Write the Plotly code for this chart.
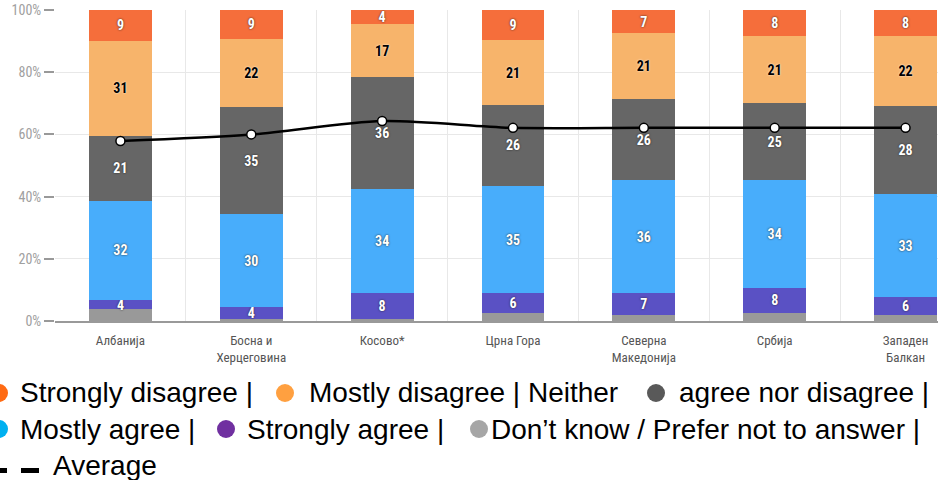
import plotly.graph_objects as go

categories = ["Албанија", "Босна и<br>Херцеговина", "Косово*", "Црна Гора",
              "Северна<br>Македонија", "Србија", "Западен<br>Балкан"]

# segment heights (percent)
strongly_disagree = [9.9, 9.3, 4.5, 9.8, 7.5, 8.5, 8.5]
mostly_disagree = [30.6, 21.9, 17.1, 20.6, 21.1, 21.4, 22.3]
neither = [20.9, 34.5, 35.9, 26.1, 26.2, 24.9, 28.3]
mostly_agree = [31.8, 29.7, 33.6, 34.6, 36.3, 34.5, 33.3]
strongly_agree = [3.1, 4.1, 8.4, 6.2, 7.0, 8.0, 5.7]
dont_know = [3.7, 0.5, 0.5, 2.7, 1.9, 2.7, 1.9]

# printed data labels
sd_labels = ["9", "9", "4", "9", "7", "8", "8"]
md_labels = ["31", "22", "17", "21", "21", "21", "22"]
n_labels = ["21", "35", "36", "26", "26", "25", "28"]
ma_labels = ["32", "30", "34", "35", "36", "34", "33"]
sa_labels = ["4", "4", "8", "6", "7", "8", "6"]

average = [57.9, 60.0, 64.3, 62.1, 62.1, 62.1, 62.1]

y_ticks = [0, 20, 40, 60, 80, 100]
y_ticktext = ["0%", "20%", "40%", "60%", "80%", "100%"]

label_font = "Liberation Sans Narrow, Roboto Condensed, Roboto, sans-serif"

fig = go.Figure()

def add_bar(vals, color, labels, txtcolor, shadow):
    fig.add_trace(go.Bar(
        x=categories, y=vals, marker=dict(color=color, line=dict(width=0)),
        text=labels, texttemplate="%{text}" if labels else None,
        textposition="inside" if labels else "none",
        insidetextanchor="middle", textangle=0,
        textfont=dict(family=label_font, size=14, color=txtcolor,
                      weight="bold", shadow=shadow),
        hoverinfo="skip", showlegend=False,
    ))

add_bar(dont_know, "#999999", None, "white", "none")
add_bar(strongly_agree, "#5A51C4", sa_labels, "white", "0px 0px 2px #222")
add_bar(mostly_agree, "#48ADFB", ma_labels, "white", "0px 0px 2px #222")
add_bar(neither, "#666666", n_labels, "white", "0px 0px 2px #222")
add_bar(mostly_disagree, "#F7B46B", md_labels, "black", "0px 0px 2px #fff")
add_bar(strongly_disagree, "#F56E3B", sd_labels, "white", "0px 0px 2px #222")

fig.add_trace(go.Scatter(
    x=categories, y=average, mode="lines+markers",
    line=dict(color="black", width=2.5, shape="spline", smoothing=0.8),
    marker=dict(size=9, color="white", line=dict(color="black", width=1.5)),
    hoverinfo="skip", showlegend=False,
))

fig.update_layout(
    width=938, height=480,
    margin=dict(l=55, r=0, t=10, b=159),
    barmode="stack", bargap=0.52,
    plot_bgcolor="white", paper_bgcolor="white",
    uniformtext=dict(minsize=14, mode="show"),
    showlegend=False,
)
fig.update_xaxes(
    type="category", range=[-0.5, 6.248], tickson="boundaries",
    showgrid=True, gridcolor="#e8e8e8", gridwidth=1,
    showline=True, linecolor="#999999", linewidth=2,
    ticks="", ticklabelstandoff=6,
    tickfont=dict(family=label_font, size=13, color="#555555"),
    fixedrange=True,
)
fig.update_yaxes(
    range=[0, 100], tickvals=y_ticks, ticktext=y_ticktext,
    showgrid=True, gridcolor="#e8e8e8", gridwidth=1, zeroline=False,
    ticks="outside", ticklen=10, tickwidth=2, tickcolor="#999999",
    tickfont=dict(family=label_font, size=14, color="#a0a0a0"),
    showline=False, fixedrange=True,
)

# ---- custom legend below the chart (text block as in the original) ----
PL, PW, PT, PH = 55, 883, 10, 311
def px(xp):
    return (xp - PL) / PW
def py(yp):
    return (PT + PH - yp) / PH

legend_font = dict(family="Liberation Sans, Arial, sans-serif", size=28, color="black")
legend_texts = [
    ("Strongly disagree |", 21, 393),
    ("Mostly disagree | Neither", 310, 393),
    ("agree nor disagree |", 680, 393),
    ("Mostly agree |", 21, 429),
    ("Strongly agree |", 248, 429),
    ("Don’t know / Prefer not to answer |", 492, 429),
    ("Average", 54, 465),
]
for txt, xp, yp in legend_texts:
    fig.add_annotation(text=txt, xref="paper", yref="paper", x=px(xp - 3), y=py(yp),
                       xanchor="left", yanchor="middle", showarrow=False,
                       font=legend_font)

legend_dots = [
    ("#FF6A13", -1, 393), ("#FFA040", 285, 393), ("#595959", 656, 393),
    ("#00B0F0", -1, 429), ("#7030A0", 226, 429), ("#A6A6A6", 479, 429),
]
r = 9
for col, xp, yp in legend_dots:
    fig.add_shape(type="circle", xref="paper", yref="paper",
                  x0=px(xp - r), x1=px(xp + r), y0=py(yp + r), y1=py(yp - r),
                  fillcolor=col, line=dict(width=0), layer="above")

for x0, x1 in [(-10, 7), (21, 39)]:
    fig.add_shape(type="rect", xref="paper", yref="paper",
                  x0=px(x0), x1=px(x1), y0=py(473), y1=py(468),
                  fillcolor="black", line=dict(width=0), layer="above")

fig.write_html("out.html")
